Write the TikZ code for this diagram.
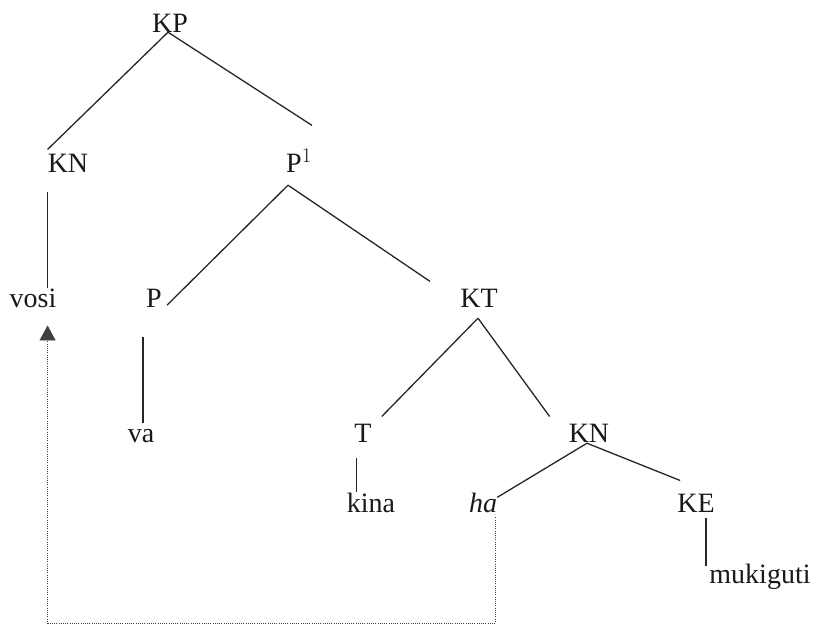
\documentclass[tikz,border=0pt]{standalone}
\usepackage{fontspec}
\setmainfont{Liberation Serif}
\usetikzlibrary{arrows.meta,calc}

\begin{document}
\begin{tikzpicture}[
  x=1pt, y=-1pt,
  cat/.style={inner sep=0pt, anchor=base, font=\fontsize{28}{34}\selectfont, text=black!90},
  br/.style={line width=1.3pt, color=black!85},
  trace/.style={line width=0.9pt, color=black!75, dash pattern=on 1pt off 1.2pt, -{Triangle[width=16pt,length=15pt]}},
]
\useasboundingbox (0,0) rectangle (839,626);

% categories and words
\node[cat] (kp) at (170,33) {KP};
\node[cat] (kn) at (68,172) {KN};
\node[cat] (pbar) at (299,172) {P$^{1}$};
\node[cat] (vosi) at (33,307) {vosi};
\node[cat] (p) at (154,307) {P};
\node[cat] (kt) at (479,307) {KT};
\node[cat] (va) at (141,442) {va};
\node[cat] (t) at (363,442) {T};
\node[cat] (knb) at (589,442) {KN};
\node[cat] (kina) at (371,512) {kina};
\node[cat] (ha) at (483,512) {\itshape ha};
\node[cat] (ke) at (696,512) {KE};
\node[cat] (muki) at (760,583) {mukiguti};

% branches
\draw[br] ($(kp.south)+(-2,-1)$) -- ($(kn.north west)+(0,-4)$);
\draw[br] ($(kp.south)+(-2,-1)$) -- ($(pbar.north east)+(0,-24)$);
\draw[br] ($(kn.south west)+(0,20)$) -- (kn.south west |- vosi.north);
\draw[br] ($(pbar.south west)+(2,13)$) -- ($(p.south east)+(5,-2)$);
\draw[br] ($(pbar.south west)+(2,13)$) -- ($(kt.north west)+(-30,-7)$);
\draw[br] ($(p.south west)+(-3,30)$) -- ($(p.south west |- va.north)+(-3,-6)$);
\draw[br] ($(kt.south)+(-1,11)$) -- ($(t.north east)+(10,-7)$);
\draw[br] ($(kt.south)+(-1,11)$) -- ($(knb.north west)+(-19,-7)$);
\draw[br] ($(t.south west)+(2,16)$) -- ($(t.south west |- kina.north)+(2,0)$);
\draw[br] ($(knb.south)+(-2,1)$) -- ($(ha.north east)+(0,5)$);
\draw[br] ($(knb.south)+(-2,1)$) -- ($(ke.north west)+(3,-13)$);
\draw[br] ($(ke.south)+(10,6)$) -- ($(ke.south |- muki.north)+(10,3)$);

% movement trace
\coordinate (hatail) at ($(ha.south east)+(-2,5)$);
\coordinate (tip) at ($(kn.south west |- vosi.south)+(0,18)$);
\coordinate (floor) at (0,623);
\draw[trace] (hatail) -- (hatail |- floor) -- (tip |- floor) -- (tip);

\end{tikzpicture}
\end{document}
